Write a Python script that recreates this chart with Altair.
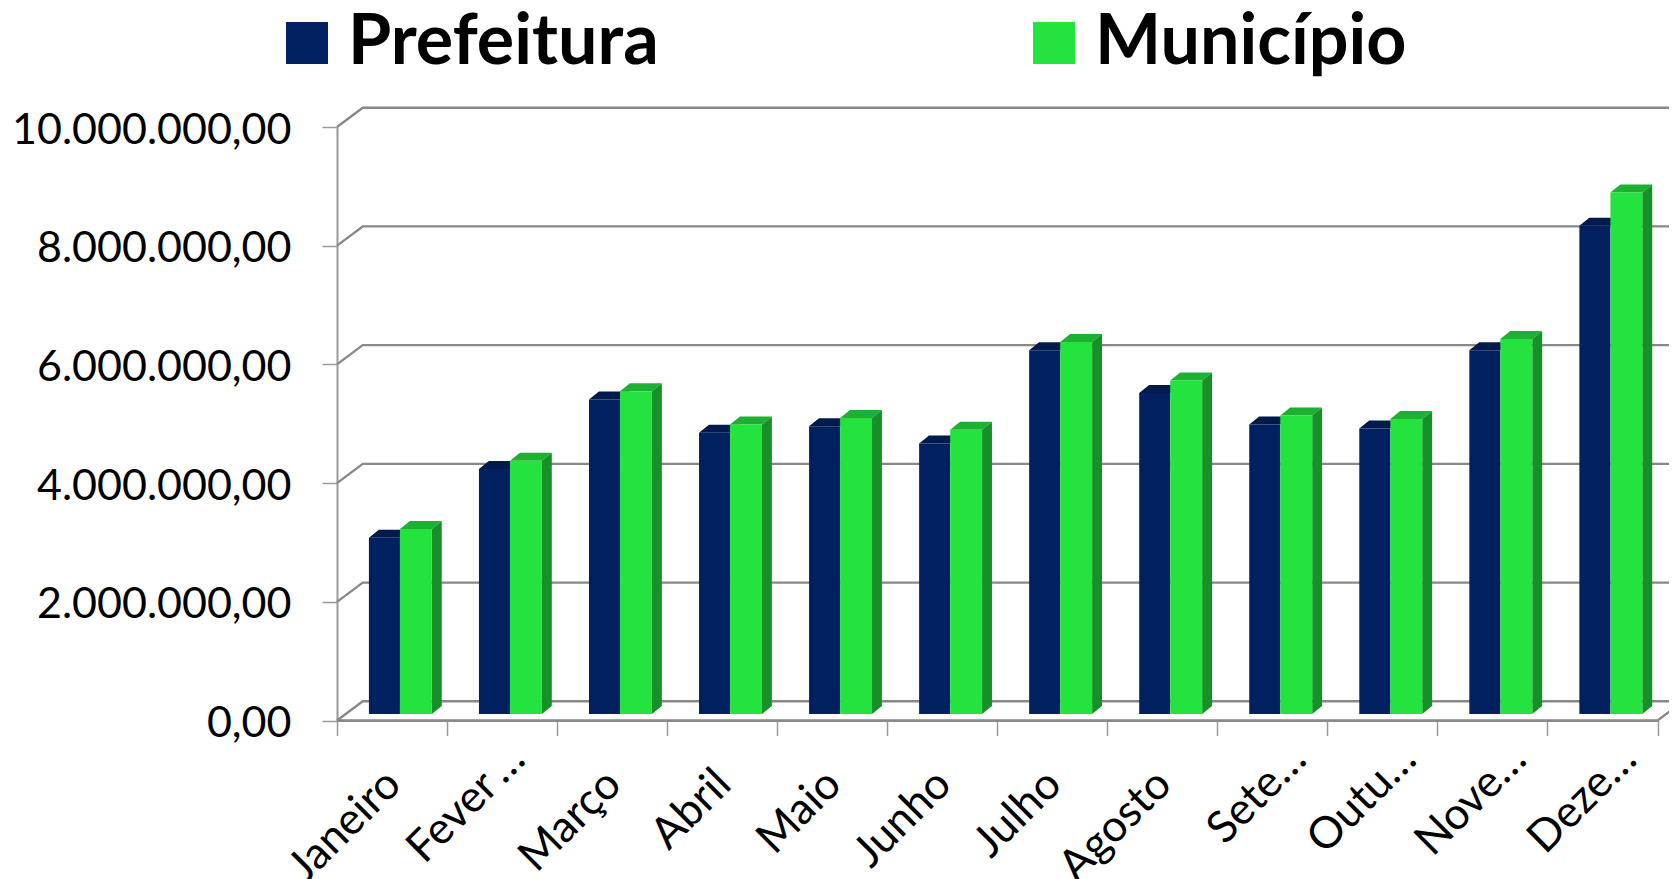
import altair as alt
import pandas as pd

categories = ["Janeiro", "Fever\u2009…", "Março", "Abril", "Maio", "Junho", "Julho",
              "Agosto", "Sete…", "Outu…", "Nove…", "Deze…"]
prefeitura = [2970000, 4130000, 5300000, 4740000, 4850000, 4560000,
              6130000, 5410000, 4880000, 4810000, 6130000, 8230000]
municipio = [3120000, 4270000, 5440000, 4880000, 4990000, 4790000,
             6270000, 5620000, 5030000, 4970000, 6320000, 8790000]
y_ticks = [0, 2000000, 4000000, 6000000, 8000000, 10000000]
series_names = ["Prefeitura", "Município"]
series_colors = ["#002060", "#25E33F"]
top_colors = {"Prefeitura": "#001A4C", "Município": "#1DB033"}
side_color = "#18902A"

# Pseudo-3D geometry, in scale units
WALL_DX, WALL_DY = 0.234, 324000
BAR_DX, BAR_DY = 0.09, 135000
BASE = 108000
SLOTS = {"Prefeitura": (0.29, 0.572), "Município": (0.572, 0.862)}
X_END = 12.18

front, side, tops = [], [], []
for i, c in enumerate(categories):
    for name, values in zip(series_names, (prefeitura, municipio)):
        a, b = SLOTS[name]
        v = values[i] + BASE
        front.append(dict(s=name, x=i + a, x2=i + b, y=BASE, y2=v))
        for k in (0, 1):
            tops.append(dict(id=f"{name}{i}", s=name, y=v + k * BAR_DY,
                             x=i + a + k * BAR_DX, x2=i + b + k * BAR_DX))
        if name == "Município":
            for k in (0, 1):
                side.append(dict(id=i, x=i + b + k * BAR_DX,
                                 y=v + k * BAR_DY, y2=BASE + k * BAR_DY))

walls = []
for t in y_ticks:
    for o, (x, y) in enumerate([(0, t), (WALL_DX, t + WALL_DY), (X_END, t + WALL_DY)]):
        walls.append(dict(id=str(t), o=o, x=x, y=y))
for o, (x, y) in enumerate([(0, 0), (12, 0), (12 + WALL_DX, WALL_DY)]):
    walls.append(dict(id="floor", o=o, x=x, y=y))

xq = alt.Scale(domain=[0, 12], nice=False, zero=False)
yq = alt.Scale(domain=[0, 10000000], nice=False, zero=False)
X = alt.X("x:Q", scale=xq, axis=None)
Y = alt.Y("y:Q", scale=yq, title=None, axis=alt.Axis(
    values=y_ticks, grid=False, tickSize=15, tickColor="#9A9A9A", tickWidth=1.5,
    domainColor="#9A9A9A", domainWidth=2, labelPadding=31, labelFont="Lato",
    labelFontSize=43, labelColor="#000000", labelLimit=400, labelOffset=3,
    labelExpr="replace(replace(replace(format(datum.value, ',.2f'), /,/g, '~'), /\\./, ','), /~/g, '.')"))

truncated = "indexof(datum.label, '…') >= 0"
fever = "indexof(datum.label, 'Fever') >= 0"
axis_layer = alt.Chart(pd.DataFrame({"c": categories})).mark_rule(opacity=0).encode(
    x=alt.X("c:N", sort=categories, title=None,
            scale=alt.Scale(paddingInner=0, paddingOuter=0),
            axis=alt.Axis(orient="bottom", tickBand="extent", tickSize=15, tickColor="#9A9A9A",
                          tickWidth=1.5, domainColor="#9A9A9A", domainWidth=2, labelAngle=-45,
                          labelFont="Lato", labelFontSize=44, labelColor="#000000",
                          labelPadding={"condition": {"test": truncated, "value": 1}, "value": 26},
                          labelOffset={"condition": [{"test": fever, "value": 0},
                                                     {"test": truncated, "value": 11}],
                                       "value": -14},
                          labelLimit=400, grid=False)))

wall_layer = alt.Chart(pd.DataFrame(walls)).mark_line(color="#888888", strokeWidth=2.3).encode(
    x=X, y=Y, detail="id:N", order="o:Q")

top_layer = alt.Chart(pd.DataFrame(tops)).mark_area(orient="horizontal", opacity=1).encode(
    y=Y,
    x=alt.X("x:Q", scale=xq, axis=None),
    x2="x2:Q",
    detail="id:N",
    fill=alt.Fill("s:N", legend=None,
                  scale=alt.Scale(domain=list(top_colors), range=list(top_colors.values()))))

side_layer = alt.Chart(pd.DataFrame(side)).mark_area(color=side_color, opacity=1).encode(
    x=X, y=Y, y2="y2:Q", detail="id:N")

front_layer = alt.Chart(pd.DataFrame(front)).mark_bar(opacity=1).encode(
    x=X, x2="x2:Q", y=Y, y2="y2:Q",
    color=alt.Color("s:N", title=None,
                    scale=alt.Scale(domain=series_names, range=series_colors),
                    legend=alt.Legend(orient="none", legendX=-65, legendY=-119, columns=2,
                                      gridAlign="each", columnPadding=360, padding=0,
                                      symbolType="square", symbolSize=1764, symbolStrokeWidth=0,
                                      symbolOpacity=1, labelFont="Lato", labelFontWeight="bold",
                                      labelFontSize=70, labelColor="#000000", labelOffset=6,
                                      labelLimit=600)))

chart = (
    alt.layer(axis_layer, wall_layer, top_layer, side_layer, front_layer)
    .resolve_scale(x="independent", color="independent", fill="independent")
    .properties(width=1320.5, height=593.5,
                autosize=alt.AutoSizeParams(type="none"),
                padding={"left": 329, "top": 119, "right": 11.5, "bottom": 158},
                background="#FFFFFF")
    .configure_view(stroke=None)
)
chart.save("out.html", embed_options={"renderer": "svg", "actions": False})
